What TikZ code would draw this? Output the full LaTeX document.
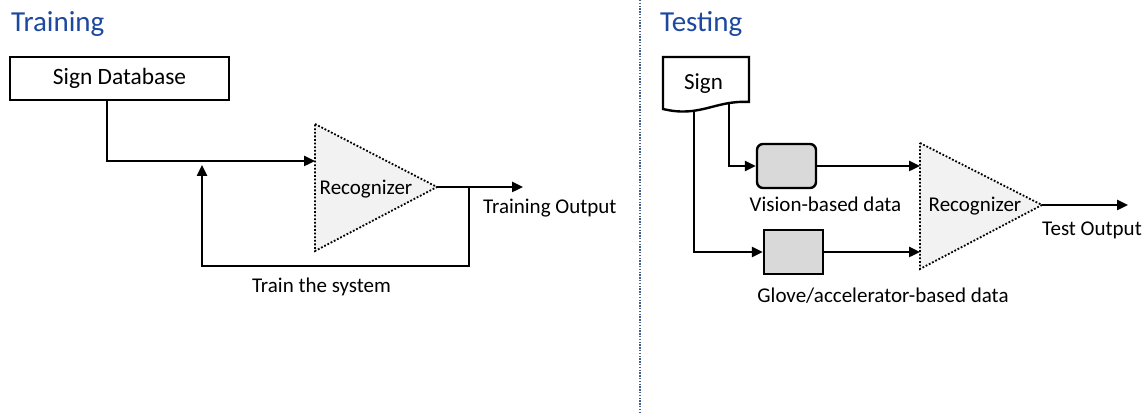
\documentclass[tikz,border=0pt]{standalone}
\usepackage{fontspec}
\setmainfont{Carlito}
\usetikzlibrary{arrows.meta}
\definecolor{titleblue}{RGB}{28,72,160}
\definecolor{sepblue}{RGB}{70,95,140}
\definecolor{trifill}{RGB}{242,242,242}
\definecolor{boxfill}{RGB}{217,217,217}

\begin{document}
\begin{tikzpicture}[x=0.5pt,y=-0.5pt,line width=1.2pt,
    flow/.style={-{Triangle[length=5.5pt,width=5pt]}},
    title/.style={anchor=base west,inner sep=0pt,text=titleblue,font=\fontsize{14.5}{17}\selectfont},
    label/.style={anchor=base,inner sep=0pt,font=\fontsize{10.5}{12}\selectfont},
    recog/.style={draw,line width=0.9pt,dash pattern=on 0.9pt off 0.9pt,fill=trifill},
    databox/.style={draw,fill=boxfill,minimum width=29.5pt,minimum height=22pt,inner sep=0pt}]
  \useasboundingbox (0,0) rectangle (1147,416);

  % training
  \node[title] (trainhead) at (10,32) {Training};
  \node[draw,minimum width=109.5pt,minimum height=21.5pt,inner sep=0pt,
    font=\fontsize{11.7}{14}\selectfont] (db) at (119.5,78.5) {Sign Database};
  \draw[recog]
    (315,124) coordinate (ltop)
    -- (437,187) coordinate (ltip)
    -- (315,251) coordinate (lbase)
    -- cycle;
  \coordinate (lin) at (315,161);
  \coordinate (lout) at (523,187);
  \coordinate (lj) at (469,187);
  \coordinate (lbot) at (469,266);
  \coordinate (lfb) at (202,165);
  \node[label] (lrec) at (366,195) {Recognizer};
  \draw[flow] ([xshift=-6.25pt]db.south) |- (lin);
  \draw[flow] (ltip) -- (lout);
  \draw[flow] (lj) -- (lbot) -| (lfb);
  \node[label,anchor=base west] (lres) at (482,214) {Training Output};
  \node[label] (ltrain) at (321.5,293) {Train the system};

  % separator
  \draw[sepblue,line width=0.7pt,dash pattern=on 0.7pt off 0.7pt] (640,0) -- (640,413);

  % testing
  \node[title] (testhead) at (659,32) {Testing};
  \draw (663,57) coordinate (sgn) -- (749,57) -- (749,102)
    .. controls (715,100) and (700,118) .. (663,109) -- cycle;
  \node[label,font=\fontsize{11.5}{14}\selectfont] (sign) at (703.5,90) {Sign};
  \coordinate (s1) at (729,103);
  \coordinate (s2) at (694,111);
  \node[databox,rounded corners=3pt] (vis) at (786.5,166) {};
  \node[databox] (glv) at (793.5,252) {};
  \draw[recog]
    (920,143) coordinate (rtop)
    -- (1042,205) coordinate (rtip)
    -- (920,269) coordinate (rbase)
    -- cycle;
  \coordinate (rin1) at (920,166);
  \coordinate (rin2) at (920,252);
  \coordinate (rout) at (1128,205);
  \draw[flow] (s1) |- (vis.west);
  \draw[flow] (s2) |- (glv.west);
  \draw[flow] (vis.east) -- (rin1);
  \draw[flow] (glv.east) -- (rin2);
  \draw[flow] (rtip) -- (rout);
  \node[label] (rrec) at (975,212) {Recognizer};
  \node[label] (vislbl) at (825.5,212) {Vision-based data};
  \node[label] (rres) at (1092,236) {Test Output};
  \node[label] (glvlbl) at (883,303) {Glove/accelerator-based data};
\end{tikzpicture}
\end{document}
